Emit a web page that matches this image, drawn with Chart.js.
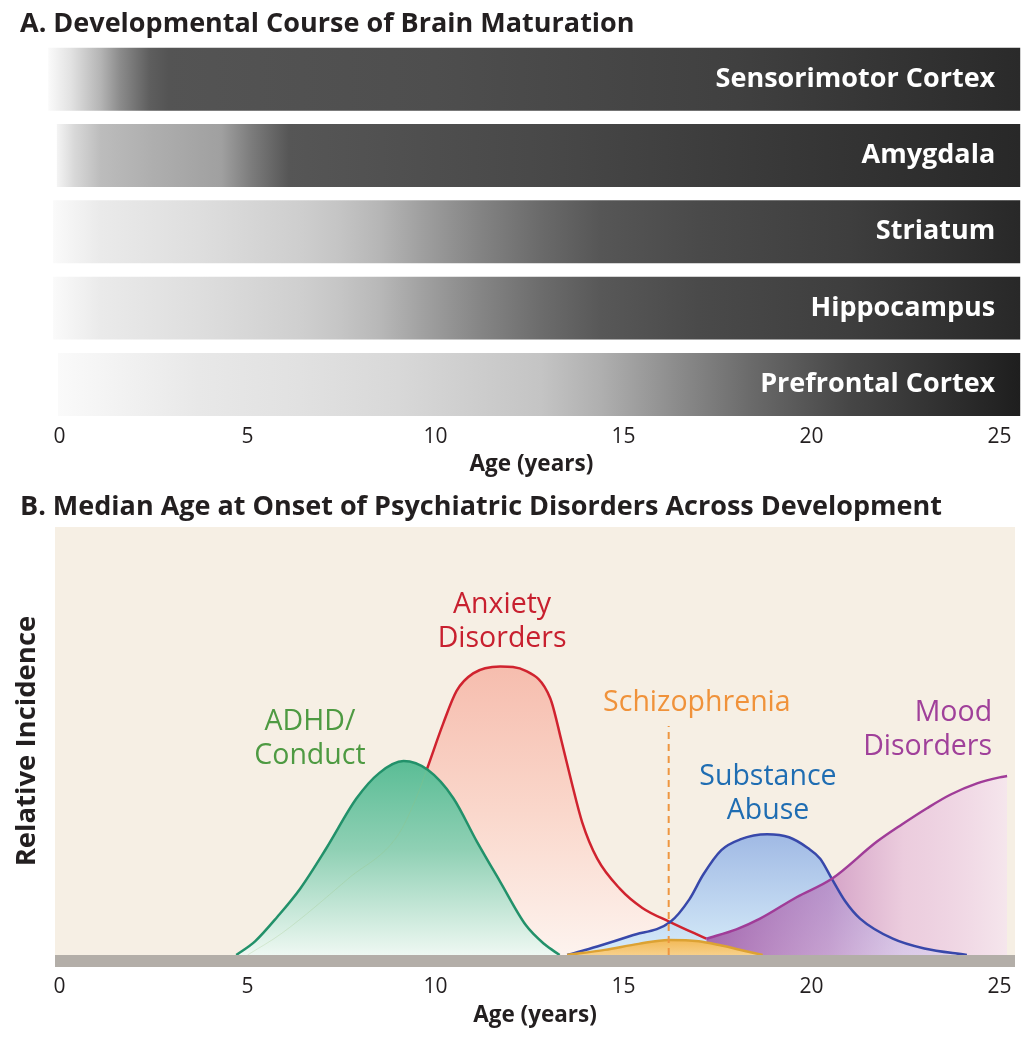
<!DOCTYPE html>
<html><head><meta charset="utf-8">
<script src="https://cdn.jsdelivr.net/npm/chart.js@4.4.0/dist/chart.umd.min.js"></script>
<style>
html,body{margin:0;padding:0;background:#fff;}
body{width:1036px;height:1050px;position:relative;overflow:hidden;}
.ttl{position:absolute;left:20px;font-family:"Open Sans",sans-serif;font-weight:700;font-size:27px;line-height:34px;color:#231f20;white-space:nowrap;}
#wrapA{position:absolute;left:0;top:0;width:1036px;height:480px;}
#wrapB{position:absolute;left:0;top:480px;width:1036px;height:570px;}
</style></head><body>
<div id="wrapA"><canvas id="chartA"></canvas></div>
<div id="wrapB"><canvas id="chartB"></canvas></div>
<div class="ttl" style="top:5px">A. Developmental Course of Brain Maturation</div>
<div class="ttl" style="top:488px">B. Median Age at Onset of Psychiatric Disorders Across Development</div>
<script>
// ---------- DATA ----------
const ageTicks = [0, 5, 10, 15, 20, 25];
const axisTitle = 'Age (years)';

// Panel A: brain regions, bar extent (years) and maturation shading [age, grey level]
const regions = ['Sensorimotor Cortex', 'Amygdala', 'Striatum', 'Hippocampus', 'Prefrontal Cortex'];
const barStart = [-0.3, -0.07, -0.17, -0.17, -0.04];
const barEnd = [25.55, 25.55, 25.55, 25.55, 25.55];
const sensorimotorShade = [[-0.3,250],[0.3,226],[1.1,180],[1.6,140],[2.4,94],[2.9,84],[10,78],[18,64],[25.55,42]];
const amygdalaShade = [[-0.07,244],[0.4,216],[1.1,188],[2.5,174],[4.3,160],[5.1,124],[6.1,86],[13,72],[20,54],[25.55,40]];
const striatumShade = [[-0.17,250],[1.1,234],[3.7,222],[6.4,206],[7.4,197],[8.5,182],[9.6,160],[11.2,131],[12.8,106],[14.4,86],[17,74],[21,62],[25.55,40]];
const hippocampusShade = [[-0.17,250],[1.1,234],[3.7,222],[6.4,207],[7.4,198],[8.5,184],[9.6,162],[11.2,133],[12.8,108],[14.4,88],[17,74],[21,62],[25.55,40]];
const prefrontalShade = [[-0.04,250],[3.7,232],[6.4,225],[9,216],[12.8,196],[14.4,175],[16.5,138],[18.4,106],[21,70],[25.55,30]];
const maturationShades = [sensorimotorShade, amygdalaShade, striatumShade, hippocampusShade, prefrontalShade];

// Panel B: relative incidence curves (age in years, relative incidence 0-100)
const adhdAge = [4.7, 5.2, 5.8, 6.4, 7.1, 7.9, 8.5, 9.15, 9.8, 10.47, 11.1, 11.72, 12.4, 12.9, 13.3];
const adhdInc = [0, 3.2, 9, 15.5, 25, 36.6, 42.5, 45.3, 43.2, 36.7, 26.5, 17.1, 7, 2.5, 0];
const anxietyAge = [5.0, 5.9, 7.7, 9.0, 9.5, 9.77, 10.2, 10.56, 11.0, 11.72, 12.4, 13.05, 13.35, 13.6, 13.9, 14.3, 14.9, 15.5, 16.24, 17.2];
const anxietyInc = [0, 5, 18, 28, 37, 43.4, 54, 61.7, 65.8, 67.4, 66.4, 60, 50, 41, 31, 22.5, 15.5, 11, 7.7, 3.8];
const schizoAge = [13.5, 14.5, 15.4, 16.2, 17.0, 17.6, 18.2, 18.7];
const schizoInc = [0, 1.2, 2.6, 3.5, 3.2, 2.2, 1.0, 0];
const substanceAge = [13.5, 14.3, 15.2, 16.24, 16.75, 17.12, 17.6, 18.1, 18.82, 19.4, 19.9, 20.23, 20.54, 20.9, 21.29, 22.16, 23.0, 24.13];
const substanceInc = [0, 2, 4.5, 7.7, 13, 18.8, 24.5, 27, 28.2, 27.5, 25, 22.5, 17.8, 12.5, 8.5, 3.8, 1.5, 0];
const moodAge = [17.2, 18.0, 18.63, 19.6, 20.54, 21.74, 22.4, 23.07, 23.7, 24.4, 25.0, 25.2];
const moodInc = [3.8, 6, 8.5, 13.5, 17.8, 26.5, 30.5, 34.3, 37.5, 40.1, 41.5, 41.8];
const schizoMedianAge = 16.2;

// ---------- PANEL A ----------
const tickFont = {family: '"Open Sans", sans-serif', size: 21};
const axisTitleFont = {family: '"Open Sans", sans-serif', size: 22.5, weight: 'bold'};

function shadeFill(ctx) {
  const chart = ctx.chart, xs = chart.scales.x;
  if (!chart.chartArea || !xs) return '#777';
  const stops = maturationShades[ctx.dataIndex];
  const p0 = xs.getPixelForValue(stops[0][0]);
  const p1 = xs.getPixelForValue(stops[stops.length - 1][0]);
  const g = chart.ctx.createLinearGradient(p0, 0, p1, 0);
  stops.forEach(([a, v]) => {
    const t = (xs.getPixelForValue(a) - p0) / (p1 - p0);
    g.addColorStop(Math.min(1, Math.max(0, t)), `rgb(${v},${v},${v})`);
  });
  return g;
}

const barLabelPlugin = {
  id: 'barLabels',
  afterDatasetsDraw(chart) {
    const {ctx} = chart;
    const meta = chart.getDatasetMeta(0);
    ctx.save();
    ctx.font = 'bold 27px "Open Sans", sans-serif';
    ctx.fillStyle = '#ffffff';
    ctx.textAlign = 'right';
    ctx.textBaseline = 'middle';
    meta.data.forEach((el, i) => ctx.fillText(regions[i], el.x - 25, el.y));
    ctx.restore();
  }
};

new Chart(document.getElementById('chartA'), {
  type: 'bar',
  data: {
    labels: regions,
    datasets: [{
      data: regions.map((r, i) => [barStart[i], barEnd[i]]),
      backgroundColor: shadeFill,
      borderWidth: 0,
      borderSkipped: false,
      barPercentage: 0.825,
      categoryPercentage: 1
    }]
  },
  options: {
    indexAxis: 'y',
    responsive: true,
    maintainAspectRatio: false,
    animation: false,
    layout: {padding: {left: 40.7, right: 13.9, top: 41, bottom: 2}},
    plugins: {legend: {display: false}, tooltip: {enabled: false}},
    scales: {
      x: {
        type: 'linear', min: -0.5, max: 25.6,
        afterBuildTicks: s => { s.ticks = ageTicks.map(v => ({value: v})); },
        afterFit: s => { s.height = 55.4; },
        grid: {display: false, drawTicks: false}, border: {display: false},
        ticks: {padding: 2, color: '#231f20', font: tickFont},
        title: {display: true, text: axisTitle, color: '#231f20', font: axisTitleFont, padding: {top: 4, bottom: 0}}
      },
      y: {display: false}
    }
  },
  plugins: [barLabelPlugin]
});

// ---------- PANEL B ----------
const toXY = (xs, ys) => xs.map((x, i) => ({x, y: ys[i]}));

function vGrad(top, stops) {
  return (ctx) => {
    const chart = ctx.chart, ys = chart.scales.y;
    if (!chart.chartArea || !ys) return stops[0][1];
    const g = chart.ctx.createLinearGradient(0, ys.getPixelForValue(top), 0, ys.getPixelForValue(0));
    stops.forEach(([t, c]) => g.addColorStop(t, c));
    return g;
  };
}
function hGrad(a0, a1, stops) {
  return (ctx) => {
    const chart = ctx.chart, xs = chart.scales.x;
    if (!chart.chartArea || !xs) return stops[0][1];
    const g = chart.ctx.createLinearGradient(xs.getPixelForValue(a0), 0, xs.getPixelForValue(a1), 0);
    stops.forEach(([t, c]) => g.addColorStop(t, c));
    return g;
  };
}

const curveLabels = [
  {lines: ['Anxiety', 'Disorders'], age: 11.77, value: 81.8, color: '#c8202f', align: 'center'},
  {lines: ['ADHD/', 'Conduct'], age: 6.66, value: 54.4, color: '#4e9a42', align: 'center'},
  {lines: ['Schizophrenia'], age: 16.95, value: 58.8, color: '#f0923a', align: 'center'},
  {lines: ['Substance', 'Abuse'], age: 18.84, value: 41.7, color: '#1f6db2', align: 'center'},
  {lines: ['Mood', 'Disorders'], age: 24.8, value: 56.6, color: '#a0409a', align: 'right'}
];

const panelBPlugin = {
  id: 'panelB',
  beforeDraw(chart) {
    const {ctx, chartArea: a} = chart;
    ctx.save();
    ctx.fillStyle = '#f6efe4';
    ctx.fillRect(a.left, a.top, a.right - a.left, a.bottom - a.top);
    ctx.restore();
  },
  afterDatasetsDraw(chart) {
    const {ctx, chartArea: a, scales: {x, y}} = chart;
    ctx.save();
    ctx.fillStyle = '#b3aea8';
    ctx.fillRect(a.left, a.bottom, a.right - a.left, 12);
    ctx.font = '28.5px "Open Sans", sans-serif';
    ctx.textBaseline = 'middle';
    curveLabels.forEach(l => {
      ctx.fillStyle = l.color;
      ctx.textAlign = l.align;
      const px = x.getPixelForValue(l.age), py = y.getPixelForValue(l.value);
      l.lines.forEach((t, i) => ctx.fillText(t, px, py + i * 34));
    });
    ctx.restore();
  }
};

const curveBase = {pointRadius: 0, borderWidth: 2.5, fill: 'origin', cubicInterpolationMode: 'monotone'};

new Chart(document.getElementById('chartB'), {
  type: 'line',
  data: {
    datasets: [
      {label: 'Schizophrenia median', data: [{x: schizoMedianAge, y: 0}, {x: schizoMedianAge, y: 53.5}],
       borderColor: '#ee9640', borderDash: [7, 5], borderWidth: 2, pointRadius: 0, fill: false},
      Object.assign({}, curveBase, {label: 'Schizophrenia', data: toXY(schizoAge, schizoInc),
       borderColor: '#dca233', backgroundColor: vGrad(4, [[0, '#f2b650'], [1, '#f7d08a']])}),
      Object.assign({}, curveBase, {label: 'ADHD/Conduct', data: toXY(adhdAge, adhdInc),
       borderColor: '#22916a', backgroundColor: vGrad(45, [[0, '#5bbd96'], [0.45, '#8fd0b4'], [1, '#eef8f2']])}),
      Object.assign({}, curveBase, {label: 'Mood Disorders', data: toXY(moodAge, moodInc),
       borderColor: '#a03c98', backgroundColor: hGrad(17.2, 25.3, [[0, 'rgba(150,60,150,0.72)'], [0.4, 'rgba(185,100,175,0.55)'], [0.65, 'rgba(225,170,215,0.5)'], [1, 'rgba(246,228,241,0.7)']])}),
      Object.assign({}, curveBase, {label: 'Substance Abuse', data: toXY(substanceAge, substanceInc),
       borderColor: '#3848aa', backgroundColor: vGrad(28.5, [[0, 'rgba(155,182,228,0.95)'], [1, 'rgba(212,235,250,0.95)']])}),
      Object.assign({}, curveBase, {label: 'Anxiety Disorders', data: toXY(anxietyAge, anxietyInc),
       borderColor: '#d0232f', backgroundColor: vGrad(67.5, [[0, '#f6bdae'], [0.5, '#fad7cb'], [1, '#fdf3ee']]),
       segment: {borderColor: c => c.p1.parsed.x <= 9.78 ? 'rgba(150,190,120,0.25)' : '#d0232f',
                 borderWidth: c => c.p1.parsed.x <= 9.78 ? 1 : 2.5}})
    ]
  },
  options: {
    responsive: true,
    maintainAspectRatio: false,
    animation: false,
    layout: {padding: {left: 0, right: 21, top: 47, bottom: 20.5}},
    plugins: {legend: {display: false}, tooltip: {enabled: false}, filler: {drawTime: 'beforeDatasetsDraw'}},
    scales: {
      x: {
        type: 'linear', min: -0.12, max: 25.41,
        afterBuildTicks: s => { s.ticks = ageTicks.map(v => ({value: v})); },
        afterFit: s => { s.height = 74.5; },
        grid: {display: false, drawTicks: false}, border: {display: false},
        ticks: {padding: 19.4, color: '#231f20', font: tickFont},
        title: {display: true, text: axisTitle, color: '#231f20', font: axisTitleFont, padding: {top: 5, bottom: 0}}
      },
      y: {
        min: 0, max: 100,
        afterFit: s => { s.width = 55; },
        grid: {display: false, drawTicks: false}, border: {display: false},
        ticks: {display: false},
        title: {display: true, text: 'Relative Incidence', color: '#231f20',
                font: {family: '"Open Sans", sans-serif', size: 27.5, weight: 'bold'}, padding: {top: 10.5, bottom: 0}}
      }
    }
  },
  plugins: [panelBPlugin]
});
</script>
</body></html>
